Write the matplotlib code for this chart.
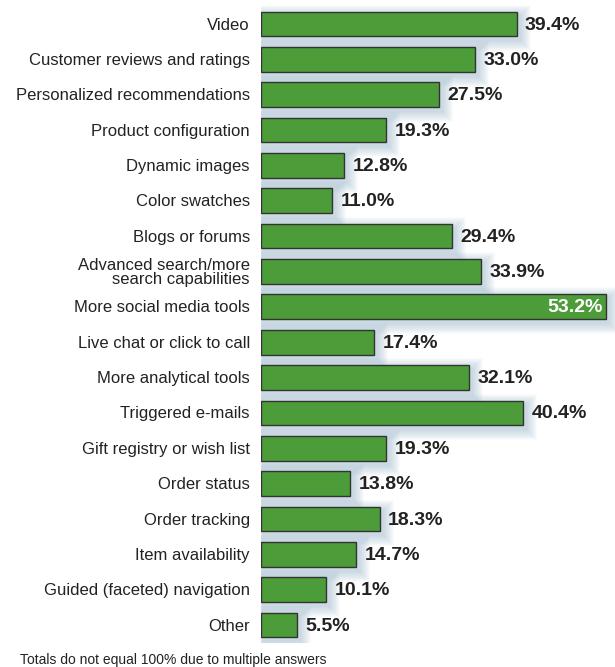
import matplotlib
matplotlib.use("Agg")
import matplotlib.pyplot as plt
from matplotlib.patches import Rectangle

categories = [
    "Video",
    "Customer reviews and ratings",
    "Personalized recommendations",
    "Product configuration",
    "Dynamic images",
    "Color swatches",
    "Blogs or forums",
    "Advanced search/more\nsearch capabilities",
    "More social media tools",
    "Live chat or click to call",
    "More analytical tools",
    "Triggered e-mails",
    "Gift registry or wish list",
    "Order status",
    "Order tracking",
    "Item availability",
    "Guided (faceted) navigation",
    "Other",
]
values = [39.4, 33.0, 27.5, 19.3, 12.8, 11.0, 29.4, 33.9, 53.2, 17.4,
          32.1, 40.4, 19.3, 13.8, 18.3, 14.7, 10.1, 5.5]
footnote = "Totals do not equal 100% due to multiple answers"

plt.rcParams["font.family"] = ["Liberation Sans", "DejaVu Sans"]

W, H = 615, 667
fig = plt.figure(figsize=(W / 100, H / 100), dpi=100)
fig.patch.set_facecolor("white")

# axes placed in pixel terms: bars start at x=261, 6.485 px per percent
x0, px_per = 261, 6.485
xmax = 56
top, bottom = 6.3, 642.7
ax = fig.add_axes([x0 / W, 1 - bottom / H, xmax * px_per / W, (bottom - top) / H])
ax.set_xlim(0, xmax)
n = len(categories)
ax.set_ylim(n - 0.5, -0.5)
ax.axis("off")

px_x = 1 / px_per                 # one pixel in x data units
px_y = 1 / ((bottom - top) / n)   # one pixel in y data units

bar_h = 0.7
green = "#4c9c3a"
edge = "#333333"
shadow = "#94b3c8"

for i, v in enumerate(values):
    # soft bluish glow, offset down and to the right
    for grow in range(11, 0, -1):
        ax.add_patch(Rectangle((-grow * px_x + 3 * px_x,
                                i - bar_h / 2 - grow * px_y + 4 * px_y),
                               v + 2 * grow * px_x, bar_h + 2 * grow * px_y,
                               facecolor=shadow, edgecolor="none",
                               alpha=0.05, zorder=1))
    ax.barh(i, v, height=bar_h, color=green, edgecolor=edge, linewidth=1.0, zorder=3)
    lab = f"{v:.1f}%"
    if v > 50:
        ax.text(v - 0.5, i + 0.03, lab, ha="right", va="center", fontsize=14,
                fontweight="bold", color="white", zorder=4)
    else:
        ax.text(v + 1.3, i + 0.03, lab, ha="left", va="center", fontsize=14,
                fontweight="bold", color="#222222", zorder=4)
    ax.text(-1.7, i + 0.03, categories[i], ha="right", va="center", fontsize=12,
            color="#222222", linespacing=0.95, zorder=4)

fig.text(20 / W, 1 - 660 / H, footnote, ha="left", va="center", fontsize=10,
         color="#222222")

fig.savefig("out.png", dpi=100, facecolor="white")
